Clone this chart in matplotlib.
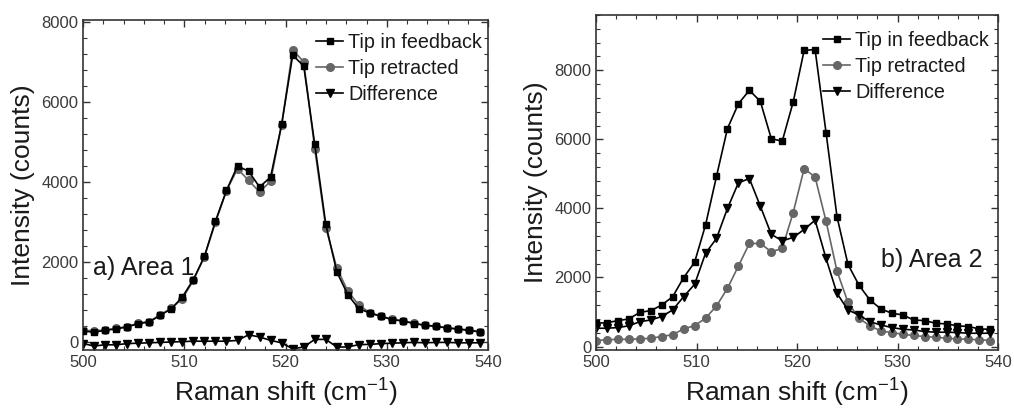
import numpy as np
import matplotlib
matplotlib.use("Agg")
import matplotlib.pyplot as plt
from matplotlib.ticker import MultipleLocator

plt.rcParams['font.family'] = ['Liberation Sans', 'DejaVu Sans']
plt.rcParams['mathtext.fontset'] = 'custom'
plt.rcParams['mathtext.rm'] = 'Liberation Sans'

# Raman shift sampling (cm^-1), 37 points from 500 to ~539
raman_shift = [500.0, 501.09, 502.18, 503.27, 504.36, 505.45, 506.54, 507.63, 508.72,
               509.81, 510.9, 511.99, 513.08, 514.17, 515.26, 516.35, 517.44, 518.53,
               519.62, 520.71, 521.8, 522.89, 523.98, 525.07, 526.16, 527.25, 528.34,
               529.43, 530.52, 531.61, 532.7, 533.79, 534.88, 535.97, 537.06, 538.15,
               539.24]

# Area 1 spectra (counts)
a1_feedback = [270, 250, 290, 330, 375, 460, 500, 670, 830, 1125, 1560, 2140, 3020,
               3790, 4400, 4270, 3875, 4125, 5440, 7170, 6900, 4940, 2940, 1750, 1180,
               830, 725, 640, 560, 525, 460, 415, 390, 350, 320, 290, 250]
a1_retracted = [290, 280, 300, 340, 385, 470, 510, 680, 840, 1080, 1540, 2130, 2990,
                3780, 4330, 4040, 3750, 4020, 5430, 7310, 7000, 4830, 2860, 1850, 1270,
                920, 730, 650, 570, 530, 470, 425, 395, 360, 330, 300, 260]
a1_difference = [-40, -100, -70, -70, -40, -30, -20, -10, 0, 10, 20, 20, 20,
                 20, 40, 180, 125, 40, -20, -170, -125, 65, 65, -125, -125,
                 -65, -60, -40, -30, -20, -10, -20, -10, -10, -20, -20, -20]

# Area 2 spectra (counts)
a2_feedback = [675, 690, 750, 800, 990, 1040, 1200, 1445, 1995, 2440, 3520, 4930, 6310,
               7030, 7420, 7100, 6020, 5945, 7080, 8575, 8600, 6195, 3760, 2380, 1780,
               1350, 1090, 965, 915, 770, 750, 675, 655, 600, 580, 510, 500]
a2_retracted = [175, 195, 210, 210, 220, 240, 290, 345, 510, 605, 820, 1175, 1685,
                2330, 2985, 2985, 2745, 2840, 3880, 5150, 4910, 3630, 2185, 1280, 820,
                600, 450, 405, 355, 320, 290, 270, 240, 220, 210, 195, 175]
a2_difference = [530, 530, 550, 600, 720, 770, 870, 1060, 1445, 1800, 2700, 3130, 4000,
                 4740, 4865, 4065, 3250, 3060, 3160, 3390, 3660, 2550, 1540, 1060, 915,
                 720, 625, 550, 500, 480, 435, 415, 415, 405, 385, 385, 385]

series_labels = ["Tip in feedback", "Tip retracted", "Difference"]
panel_titles = ["a) Area 1", "b) Area 2"]

TXT = "#1a1a1a"
TICK_TXT = "#3a3a3a"

fig = plt.figure(figsize=(10.14, 4.08), dpi=100)
ax1 = fig.add_axes([83 / 1014, 58 / 408, 405 / 1014, 330 / 408])
ax2 = fig.add_axes([596 / 1014, 58 / 408, 402 / 1014, 335 / 408])


def draw(ax, fb, rt, df, ylim, title, title_xy, leg_anchor):
    ax.plot(raman_shift, fb, '-', color='black', lw=1.2, marker='s', ms=5,
            label=series_labels[0], zorder=3)
    ax.plot(raman_shift, rt, '-', color='#666666', lw=1.2, marker='o', ms=5.5,
            label=series_labels[1], zorder=2)
    ax.plot(raman_shift, df, '-', color='black', lw=1.2, marker='v', ms=6,
            label=series_labels[2], zorder=2)
    ax.set_xlim(500, 540)
    ax.set_ylim(*ylim)
    ax.xaxis.set_major_locator(MultipleLocator(10))
    ax.xaxis.set_minor_locator(MultipleLocator(2))
    ax.yaxis.set_major_locator(MultipleLocator(2000))
    ax.yaxis.set_minor_locator(MultipleLocator(400))
    ax.tick_params(which='both', direction='in', top=True, right=True,
                   labelsize=12, labelcolor=TICK_TXT, color='#333333')
    ax.tick_params(which='major', length=5, width=1)
    ax.tick_params(which='minor', length=3, width=0.8)
    for s in ax.spines.values():
        s.set_color('#333333')
        s.set_linewidth(1.2)
    ax.set_xlabel(r"Raman shift (cm$^{-1}$)", fontsize=19, color=TXT, labelpad=4)
    ax.set_ylabel("Intensity (counts)", fontsize=19, color=TXT, labelpad=4)
    ax.text(title_xy[0], title_xy[1], title, transform=ax.transAxes,
            fontsize=18, color=TXT, va='center', ha='left')
    leg = ax.legend(loc='upper right', bbox_to_anchor=leg_anchor, frameon=False,
                    fontsize=14.2, handlelength=1.4, handletextpad=0.25,
                    labelspacing=0.36, borderaxespad=0.0, borderpad=0.0)
    for t in leg.get_texts():
        t.set_color(TXT)


draw(ax1, a1_feedback, a1_retracted, a1_difference, (-200, 8050),
     panel_titles[0], (0.025, 0.25), (1 - 6 / 405, 1 - 13 / 330))
draw(ax2, a2_feedback, a2_retracted, a2_difference, (-100, 9600),
     panel_titles[1], (0.71, 0.27), (1 - 9 / 402, 1 - 16 / 335))

fig.savefig("out.png", dpi=100)
